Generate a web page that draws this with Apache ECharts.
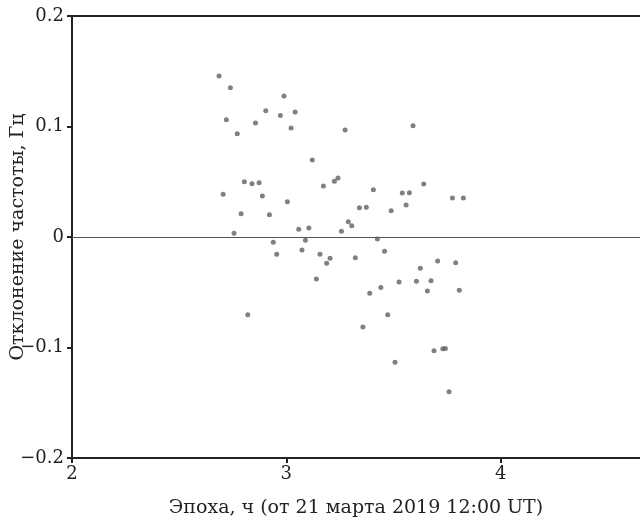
<!DOCTYPE html>
<html>
<head>
<meta charset="utf-8">
<script src="https://cdn.jsdelivr.net/npm/echarts@6/dist/echarts.min.js"></script>
<style>html,body{margin:0;padding:0;background:#fff}#c{width:640px;height:522px}</style>
</head>
<body>
<div id="c"></div>
<script>
const xTicks = [2, 3, 4];
const yTicks = [-0.2, -0.1, 0, 0.1, 0.2];
const xLabel = 'Эпоха, ч (от 21 марта 2019 12:00 UT)';
const yLabel = 'Отклонение частоты, Гц';
const epochs = [
  2.686, 2.739, 2.720, 2.771, 2.904, 2.856, 2.989, 2.972, 3.041, 3.022, 3.121,
  2.804, 2.840, 2.873, 2.705, 2.888, 3.005, 2.789, 2.921, 2.756, 3.058, 3.105,
  2.939, 3.089, 3.073, 2.955, 3.173, 3.157, 3.188, 3.204, 3.140, 2.820,
  3.224, 3.241, 3.406, 3.541, 3.574, 3.641, 3.775, 3.826, 3.341, 3.373, 3.489,
  3.559, 3.289, 3.305, 3.257, 3.425, 3.458, 3.322, 3.706, 3.790, 3.625, 3.607,
  3.675, 3.526, 3.658, 3.807, 3.441, 3.389, 3.473, 3.357, 3.689, 3.730, 3.742,
  3.507, 3.759, 3.274, 3.591
];
const deviations = [
  0.1457, 0.135, 0.106, 0.0935, 0.1143, 0.1032, 0.1276, 0.110, 0.1131, 0.0986, 0.0697,
  0.050, 0.0482, 0.0491, 0.0386, 0.0371, 0.032, 0.0211, 0.0202, 0.0033, 0.0070, 0.0081,
  -0.0048, -0.003, -0.0118, -0.0157, 0.0462, -0.0157, -0.0238, -0.0193, -0.038, -0.0703,
  0.0504, 0.0534, 0.0428, 0.0398, 0.0401, 0.048, 0.0353, 0.0353, 0.0265, 0.0269, 0.0238,
  0.029, 0.0139, 0.0102, 0.0051, -0.0018, -0.013, -0.0187, -0.0217, -0.0232, -0.0283, -0.0401,
  -0.0395, -0.0407, -0.0489, -0.0483, -0.0458, -0.051, -0.0703, -0.0814, -0.1029, -0.1011, -0.1008,
  -0.1134, -0.140, 0.0968, 0.1007
];
const points = epochs.map((x, i) => [x, deviations[i]]);
const font = 'DejaVu Serif';
const chart = echarts.init(document.getElementById('c'));
chart.setOption({
  animation: false,
  grid: { left: 72, top: 16, right: 0, bottom: 64, containLabel: false, outerBoundsMode: 'none' },
  xAxis: [{
    type: 'value', min: xTicks[0], max: 4.65, interval: 1,
    name: xLabel, nameLocation: 'middle', nameGap: 41, nameMoveOverlap: false,
    nameTextStyle: { fontFamily: font, fontSize: 19, color: '#222' },
    axisLine: { show: true, onZero: false, lineStyle: { color: '#222', width: 2 } },
    axisTick: { show: true, length: 5, lineStyle: { color: '#222', width: 2 } },
    axisLabel: { showMaxLabel: false, fontFamily: font, fontSize: 18, color: '#222', margin: 7,
      formatter: v => xTicks.includes(v) ? String(v) : '' },
    splitLine: { show: false }
  }, {
    type: 'value', position: 'top', min: xTicks[0], max: 4.65,
    axisLine: { show: true, onZero: false, lineStyle: { color: '#222', width: 2 } },
    axisTick: { show: false }, axisLabel: { show: false }, splitLine: { show: false }
  }],
  yAxis: {
    type: 'value', min: -0.2, max: 0.2, interval: 0.1,
    name: yLabel, nameLocation: 'middle', nameGap: 44, nameMoveOverlap: false,
    nameTextStyle: { fontFamily: font, fontSize: 19, color: '#222' },
    axisLine: { show: true, onZero: false, lineStyle: { color: '#222', width: 2 } },
    axisTick: { show: true, length: 5, lineStyle: { color: '#222', width: 2 } },
    axisLabel: { fontFamily: font, fontSize: 18, color: '#222', margin: 8,
      formatter: v => {
        const r = Math.round(v * 10) / 10;
        if (r === 0) return '0';
        return (r < 0 ? '\u2212' : '') + Math.abs(r).toFixed(1);
      } },
    splitLine: { show: false }
  },
  series: [{
    type: 'scatter', data: points, symbolSize: 5,
    itemStyle: { color: '#606060' },
    markLine: {
      silent: true, symbol: 'none', label: { show: false },
      lineStyle: { color: '#555', width: 1.2, type: 'solid' },
      data: [{ yAxis: 0 }]
    }
  }]
});
</script>
</body>
</html>
